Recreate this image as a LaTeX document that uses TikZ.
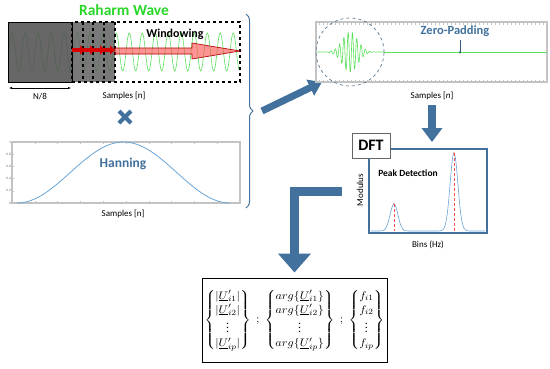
\documentclass[tikz,border=0pt]{standalone}
\usepackage{fontspec}
\setmainfont{Carlito}
\usepackage{amsmath}
\usetikzlibrary{arrows.meta,decorations.pathreplacing,calc}
\definecolor{steel}{RGB}{65,113,156}
\definecolor{wavegreen}{RGB}{90,225,90}
\definecolor{titlegreen}{RGB}{40,215,40}
\definecolor{hannblue}{RGB}{105,165,215}
\definecolor{boxgray}{RGB}{195,195,195}

\begin{document}
\begin{tikzpicture}[x=1pt,y=-1pt,
	lbl/.style={font=\fontsize{9}{10}\selectfont},
	bluetitle/.style={font=\bfseries\fontsize{12.5}{14}\selectfont, text=steel},
	frame/.style={draw=boxgray, line width=1.2pt},
	fatarrow/.style={steel, line width=#1},
	]
	\useasboundingbox (0,0) rectangle (550,368);

	% raw wave and windowing
	\draw[wavegreen, line width=0.6pt] plot[domain=9:239, samples=320, smooth] (\x,{52-19*sin((\x-9)/13*360)});
	\fill[black!68, opacity=0.88] (8,22) rectangle (72,82);
	\fill[black!62, opacity=0.85] (72,22) rectangle (115,82);
	\draw[line width=1pt] (8,22) rectangle (72,82);
	\draw[dashed, line width=1.5pt] (72,22) rectangle (240,82);
	\foreach \s in {83,93,104,115} \draw[dashed, line width=1.2pt] (\s,22) -- (\s,82);
	\foreach \s in {72,82,92,102} \draw[red!85!black, line width=3.5pt, -{Triangle[width=9pt,length=5pt]}] (\s,50) -- ++(13,0);
	\filldraw[fill=red!70, fill opacity=0.6, draw=red!70!black, line width=0.6pt]
		(115,48) -- (192,48) -- (192,43) -- (240,51) -- (192,59) -- (192,54) -- (115,54) -- cycle;
	\node[font=\bfseries\fontsize{15.5}{17}\selectfont, text=titlegreen] (rawtitle) at (124,10) {Raharm Wave};
	\node[font=\bfseries\fontsize{12}{14}\selectfont] (wintitle) at (175,34) {Windowing};
	\coordinate (nl) at (9,88);
	\coordinate (nr) at (71,88);
	\draw[{Latex[length=3pt]}-{Latex[length=3pt]}, line width=0.5pt] (nl) -- (nr);
	\node[lbl] (ntext) at (40,97) {N/8};
	\node[lbl] (samples1) at (124,96) {Samples [n]};

	% product sign
	\draw[steel, line width=4pt] (119,111) -- (131,123) (119,123) -- (131,111);

	% hanning window
	\draw[frame] (12,142) rectangle (240,203);
	\foreach \t in {1,...,9} {
		\draw[boxgray, line width=0.5pt] ({12+\t*22.8},142) -- ++(0,2);
		\draw[boxgray, line width=0.5pt] ({12+\t*22.8},203) -- ++(0,-2);
	}
	\foreach \v in {0,0.2,0.4,0.6,0.8,1} {
		\draw[boxgray, line width=0.5pt] (12,{203-\v*61}) -- ++(2,0);
		\node[font=\fontsize{3.5}{4}\selectfont, text=black!60, left, inner sep=1pt] at (12,{203-\v*61}) {\v};
	}
	\draw[hannblue, line width=0.8pt] plot[domain=17:230, samples=90, smooth] (\x,{203-61*pow(sin((\x-17)/213*180),2)});
	\node[bluetitle, font=\bfseries\fontsize{13.5}{15}\selectfont] (hanntitle) at (123,164) {Hanning};
	\node[lbl] (samples2) at (123,214) {Samples [n]};

	% brace
	\draw[steel, line width=1pt, decorate, decoration={brace, amplitude=7pt}] (246,14) -- (246,208);
	\coordinate (bracetip) at (262,111);
	\coordinate (padcorner) at (322,82);
	\draw[fatarrow=7pt, -{Triangle[width=17pt,length=13pt]}] (bracetip) -- (padcorner);

	% zero padding
	\draw[frame] (316,22) rectangle (547,82);
	\foreach \t in {319,323,...,545} {
		\draw[boxgray, line width=0.4pt] (\t,22) -- ++(0,2.5);
		\draw[boxgray, line width=0.4pt] (\t,82) -- ++(0,-2.5);
	}
	\draw[wavegreen, line width=0.6pt] plot[domain=317:384, samples=400, smooth] (\x,{52-20*exp(-pow((\x-350)/11,2))*sin((\x-317)/4.3*360)});
	\draw[wavegreen, line width=0.8pt] (384,52) -- (547,52);
	\draw[dashed, draw=steel!60!gray, line width=0.7pt] (350,52) circle[radius=34pt];
	\node[bluetitle] (padtitle) at (455,31) {Zero-Padding};
	\coordinate (padarr) at (460,54);
	\draw[steel!80!black, line width=0.6pt, -{Stealth[length=3pt]}] (padtitle.south -| padarr) -- (padarr);
	\node[lbl] (samples3) at (432,96) {Samples [\textit{n}]};

	% dft
	\coordinate (dfttop) at (432,105);
	\coordinate (dftin) at (432,142);
	\draw[fatarrow=8pt, -{Triangle[width=20pt,length=14pt]}] (dfttop) -- (dftin);
	\draw[steel, line width=1.5pt] (369,149) rectangle (487,233);
	\draw[hannblue, line width=0.6pt] plot[domain=371:485, samples=240, smooth]
		(\x,{231-27*exp(-pow((\x-394)/5.5,2))-78*exp(-pow((\x-454)/5.5,2))});
	\draw[red!70, densely dashed, line width=0.25pt] (394,204) -- (394,231) (454,153) -- (454,231);
	\fill[red!80] (394,204) circle[radius=0.7pt] (454,153) circle[radius=0.7pt];
	\node[draw=black!60, fill=white, line width=1pt, font=\bfseries\fontsize{16}{18}\selectfont,
		minimum width=38pt, minimum height=25pt, inner sep=0pt] (dft) at (371,145.5) {DFT};
	\node[lbl, rotate=90] (modulus) at (360,190) {Modulus};
	\node[font=\bfseries\fontsize{9.5}{11}\selectfont] (peaktitle) at (408,173) {Peak Detection};
	\node[lbl] (bins) at (428,245) {Bins (Hz)};

	% result
	\node[draw, line width=1pt, minimum width=185pt, minimum height=84pt, inner sep=0pt] (result) at (294.5,320)
		{\fontsize{11}{13}\selectfont\renewcommand{\arraystretch}{1.08}\scalebox{1.1}[1]{$\left\{\begin{matrix}|\underline{U}'_{i1}|\\|\underline{U}'_{i2}|\\ \vdots\\|\underline{U}'_{ip}|\end{matrix}\right\}\;;\;\left\{\begin{matrix}arg\{\underline{U}'_{i1}\}\\ arg\{\underline{U}'_{i2}\}\\ \vdots\\ arg\{\underline{U}'_{ip}\}\end{matrix}\right\}\;;\;\left\{\begin{matrix}f_{i1}\\ f_{i2}\\ \vdots\\ f_{ip}\end{matrix}\right\}$}};
	\coordinate (lstart) at (342,191);
	\draw[fatarrow=9pt, -{Triangle[width=32pt,length=19pt]}] (lstart) -| ($(result.north)+(0,-5)$);
\end{tikzpicture}
\end{document}
